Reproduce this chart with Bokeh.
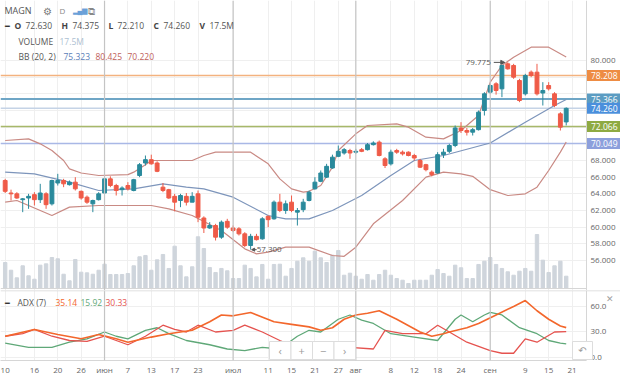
from bokeh.plotting import figure
from bokeh.models import (Range1d, LinearAxis, FixedTicker, Span, Label, Grid,
                          NumeralTickFormatter, Arrow, NormalHead, BoxAnnotation)
from bokeh.layouts import column
from bokeh.embed import file_html
from bokeh.resources import INLINE

# ---------------- data ----------------
opens = [65.6, 64.1, 64.0, 63.3, 63.5, 63.9, 63.3, 64.0, 62.8, 65.3,
         65.6, 65.1, 65.4, 64.3, 63.6, 62.8, 63.3, 64.1, 65.8, 65.0,
         64.5, 65.0, 64.4, 66.2, 67.7, 68.1, 67.7, 64.8, 64.5, 63.7,
         63.2, 63.7, 63.0, 64.0, 61.1, 59.9, 60.2, 58.8, 60.7, 59.9,
         59.8, 59.2, 57.8, 58.9, 58.6, 61.3, 61.0, 63.0, 62.0, 63.0,
         61.8, 62.1, 63.2, 64.6, 65.5, 66.0, 67.1, 68.5, 68.9, 69.2,
         69.0, 69.3, 69.3, 69.9, 70.2, 68.2, 67.6, 69.2, 69.0, 69.0,
         68.6, 68.0, 67.5, 66.6, 66.5, 68.7, 69.1, 69.8, 71.9, 71.6,
         71.4, 71.7, 74.0, 76.2, 77.2, 76.6, 79.6, 79.4, 77.6, 76.0,
         78.6, 78.6, 76.1, 77.0, 76.0, 73.6, 72.63]
highs = [65.8, 64.5, 64.2, 63.5, 64.0, 64.2, 65.2, 64.2, 65.7, 66.4,
         65.8, 65.6, 66.0, 64.4, 63.8, 63.3, 64.2, 65.9, 66.1, 65.2,
         64.9, 65.4, 65.8, 67.7, 68.6, 68.7, 67.9, 65.3, 64.6, 64.0,
         64.0, 64.1, 64.2, 64.4, 61.3, 60.6, 60.4, 60.8, 61.0, 60.2,
         60.0, 59.4, 59.2, 59.2, 61.2, 61.4, 63.2, 64.0, 63.2, 63.8,
         62.3, 63.4, 64.4, 66.0, 66.8, 67.6, 68.7, 69.8, 69.5, 69.4,
         69.4, 69.5, 70.1, 70.3, 70.4, 68.4, 69.3, 69.4, 69.2, 69.1,
         68.8, 68.2, 67.6, 66.8, 69.0, 69.4, 70.0, 72.2, 72.6, 71.9,
         71.9, 74.0, 76.2, 77.2, 77.4, 79.5, 79.775, 79.6, 77.8, 78.4,
         78.8, 79.6, 77.4, 77.4, 76.2, 73.8, 74.375]
lows = [64.1, 63.2, 63.4, 61.8, 62.2, 62.6, 62.9, 62.2, 62.6, 65.0,
        64.8, 65.0, 64.4, 63.3, 62.8, 61.8, 63.2, 64.0, 64.8, 63.8,
        63.8, 64.4, 64.3, 66.0, 67.4, 67.5, 66.6, 64.2, 63.4, 61.9,
        62.4, 62.6, 63.0, 60.6, 59.3, 59.8, 58.4, 58.6, 59.8, 59.4,
        59.0, 57.6, 57.3, 58.4, 58.5, 60.0, 60.9, 61.8, 61.6, 61.8,
        60.2, 61.8, 63.1, 64.5, 65.4, 65.9, 67.0, 68.4, 68.7, 68.2,
        68.8, 69.0, 69.2, 69.8, 68.5, 67.1, 67.4, 68.8, 68.6, 68.5,
        68.0, 67.1, 66.7, 66.1, 66.4, 68.3, 68.9, 69.6, 71.3, 71.0,
        71.0, 71.6, 73.4, 76.0, 75.9, 75.6, 78.9, 77.8, 75.0, 75.8,
        78.0, 75.8, 74.6, 76.4, 74.4, 71.6, 72.21]
closes = [64.3, 64.0, 63.5, 63.4, 63.7, 63.3, 64.1, 62.7, 65.6, 65.6,
          65.2, 65.4, 64.6, 63.5, 63.0, 63.2, 64.0, 65.8, 65.0, 64.4,
          64.7, 64.6, 65.7, 67.5, 68.1, 67.6, 66.7, 64.4, 63.5, 63.0,
          63.8, 63.0, 63.7, 61.2, 59.9, 60.2, 58.8, 60.6, 60.0, 59.6,
          59.2, 57.8, 58.9, 58.5, 61.0, 60.9, 63.0, 62.0, 62.8, 62.0,
          62.0, 63.0, 64.2, 65.4, 66.5, 67.3, 68.4, 69.1, 69.3, 68.9,
          69.1, 69.1, 69.9, 70.1, 68.6, 67.4, 69.0, 69.0, 68.8, 68.6,
          68.3, 67.2, 66.9, 66.3, 68.7, 69.0, 69.8, 71.9, 71.6, 71.4,
          71.7, 73.8, 76.0, 77.0, 76.4, 79.4, 79.0, 78.0, 75.2, 78.2,
          78.2, 76.0, 76.4, 76.6, 74.6, 72.0, 74.26]
volumes = [37.0, 26.0, 15.2, 32.3, 18.1, 13.2, 33.2, 35.1, 44.1, 42.3,
           20.3, 11.0, 41.3, 23.2, 22.3, 20.3, 26.0, 34.6, 19.9, 19.9,
           19.9, 21.3, 32.3, 45.1, 47.0, 26.0, 40.8, 48.4, 28.5, 60.2,
           32.3, 16.6, 30.9, 73.6, 56.9, 29.9, 22.8, 28.5, 25.2, 14.2,
           14.2, 33.2, 28.5, 16.6, 34.2, 13.2, 34.2, 34.6, 17.5, 28.5,
           38.8, 43.7, 38.8, 53.1, 43.7, 37.0, 47.4, 54.1, 18.9, 21.8,
           17.5, 13.2, 19.9, 11.8, 19.9, 26.0, 18.9, 14.2, 11.8, 7.1,
           11.8, 11.8, 11.8, 18.9, 27.0, 21.3, 17.5, 33.2, 29.5, 14.2,
           14.2, 34.2, 38.8, 44.1, 34.2, 28.5, 23.8, 18.9, 24.6, 28.5,
           24.6, 76.8, 40.3, 22.8, 32.3, 38.8, 17.5]

# Bollinger bands (20, 2): candle index, value
bb_up_x = [0, 4, 6, 8, 10, 11, 13, 16, 21, 22, 24, 25, 32, 34, 36, 42, 45, 47, 49, 51,
           52, 54, 56, 57, 60, 62, 67, 69, 72, 75, 78, 81, 82, 83, 85, 87, 90, 93, 96]
bb_up = [70.4, 70.6, 70.0, 69.2, 68.0, 67.0, 66.5, 66.2, 66.3, 66.6, 67.5, 68.0, 68.0, 68.6, 69.0,
         69.0, 67.6, 65.8, 64.6, 64.2, 64.3, 65.0, 67.2, 69.2, 71.2, 72.2, 72.4, 72.0, 70.8, 70.6,
         71.6, 73.4, 75.4, 77.4, 79.4, 80.4, 81.6, 81.6, 80.425]
bb_mid_x = [0, 5, 11, 16, 22, 27, 31, 34, 39, 45, 48, 52, 56, 61, 66, 70, 75, 83, 89, 94, 96]
bb_mid = [66.6, 66.4, 65.4, 64.4, 64.6, 65.2, 64.8, 64.6, 63.6, 61.4, 61.0, 61.0, 62.0, 63.8,
          66.2, 68.0, 68.6, 70.1, 72.6, 74.6, 75.323]
bb_lo_x = [0, 2, 8, 11, 16, 25, 28, 32, 37, 41, 43, 45, 48, 52, 56, 58, 60, 63, 68, 72, 75,
           78, 80, 83, 86, 89, 91, 93, 95, 96]
bb_lo = [63.0, 63.2, 61.4, 62.4, 62.6, 62.6, 62.2, 61.4, 59.6, 57.4, 56.8, 57.0, 57.6, 57.6,
         56.6, 56.5, 57.6, 60.4, 63.2, 66.0, 66.6, 66.4, 66.1, 64.5, 63.8, 64.0, 64.8, 66.8,
         69.0, 70.22]

# ADX (7)
adx_x = [0, 5, 9, 13, 16, 19, 21, 25, 28, 32, 35, 37, 39, 42, 46, 49, 52, 54, 56, 58, 60, 62,
         64, 67, 71, 73, 75, 76, 79, 81, 84, 87, 89, 91, 93, 95, 96]
adx = [25, 33, 27, 22, 27, 22, 18, 24, 28, 32, 42, 50, 49, 53, 42, 39, 36, 32, 35, 45, 50, 52,
       55, 45, 30, 25, 28, 30, 35, 40, 50, 60, 67, 55, 45, 37, 35.14]
pdi_x = [0, 4, 8, 11, 14, 17, 19, 21, 24, 26, 28, 31, 35, 38, 41, 44, 47, 50, 52, 54, 57, 59,
         61, 63, 66, 70, 74, 77, 78, 80, 82, 83, 85, 88, 91, 93, 95, 96]
pdi = [17, 12, 12, 18, 22, 30, 25, 22, 32, 35, 28, 20, 15, 10, 8, 12, 10, 25, 32, 30, 45, 50,
       44, 40, 28, 24, 20, 45, 50, 42, 50, 53, 50, 35, 28, 20, 17, 15.92]
mdi_x = [0, 3, 5, 8, 11, 14, 17, 19, 21, 24, 27, 29, 31, 33, 36, 39, 41, 44, 47, 49, 52, 55,
         59, 63, 65, 68, 72, 74, 76, 79, 83, 85, 87, 89, 91, 94, 96]
mdi = [25, 28, 33, 25, 20, 19, 25, 20, 15, 25, 38, 33, 30, 38, 30, 32, 38, 30, 20, 14, 10, 10,
       12, 10, 32, 28, 28, 38, 30, 18, 8, 5, 5, 22, 18, 30, 30.33]

tick_idx = [0, 5, 9, 13, 17, 21, 25, 29, 33, 39, 45, 49, 53, 57, 60, 66, 70, 74, 78, 83, 89, 93, 97]
tick_lbl = ["10", "16", "20", "26", "июн", "7", "13", "17", "23", "июл", "11", "15", "21", "27",
            "авг", "8", "12", "18", "24", "сен", "9", "15", "21"]
month_idx = [17, 39, 60, 83]
price_grid = [56, 58, 60, 62, 64, 66, 68, 70, 72, 74, 76, 78, 80]
price_labels = [56, 58, 60, 62, 64, 66, 68, 80]   # the others sit under the level boxes
levels = [78.208, 75.366, 74.260, 72.066, 70.049]
level_line_colors = ["#f3b27f", "#6fa6c6", "#c5d3e6", "#a7b86a", "#a9b8e6"]
level_box_colors = ["#ee8c43", "#5b9cc2", "#4a8fdc", "#8eaa42", "#8c9fdc"]

# ---------------- style ----------------
UP = "#2a8a9c"
DN = "#ef5b48"
FONT = "Open Sans"
TXT = "#555555"
X0, XAX, X1 = -0.8, 99.47, 105.29   # left edge, price-scale position, right edge (index units)

n = len(closes)
idx = list(range(n))
up = [c >= o for o, c in zip(opens, closes)]
col = [UP if u else DN for u in up]
body_top = [max(o, c) for o, c in zip(opens, closes)]
body_bot = [min(o, c) for o, c in zip(opens, closes)]
body_bot = [b if t - b > 0.06 else t - 0.06 for t, b in zip(body_top, body_bot)]

XR = Range1d(X0, X1)


def base_fig(h, yr, bottom=0):
    f = figure(width=620, height=h, x_range=XR, y_range=yr, output_backend="svg",
               toolbar_location=None, min_border_left=0, min_border_right=0,
               min_border_top=0, min_border_bottom=bottom,
               x_axis_location=None, y_axis_location=None)
    f.grid.visible = False
    f.outline_line_color = None
    return f


def axis_style(a):
    a.major_tick_line_color = None
    a.minor_tick_line_color = None
    a.major_tick_out = 0
    a.major_tick_in = 0
    a.minor_tick_out = 0
    a.minor_tick_in = 0
    a.axis_line_color = "#d6d6d6"
    a.major_label_text_font_size = "8px"
    a.major_label_text_color = "#666666"
    a.major_label_text_font = FONT


p1 = base_fig(290, Range1d(52.4, 87.2))
p1.extra_y_ranges = {"vol": Range1d(-2.85, 409.8)}

p1.add_layout(Grid(dimension=0, ticker=FixedTicker(ticks=tick_idx), grid_line_color="#efefef"))
p1.add_layout(Grid(dimension=1, ticker=FixedTicker(ticks=price_grid), grid_line_color="#efefef"))
p1.add_layout(BoxAnnotation(left=XAX, fill_color="white", fill_alpha=1, line_color=None, level="underlay"))
for m in month_idx:
    p1.add_layout(Span(location=m, dimension="height", line_color="#c4c4c4", line_width=1.2))

ax = LinearAxis(ticker=FixedTicker(ticks=price_labels), formatter=NumeralTickFormatter(format="0.000"),
                fixed_location=XAX, major_label_standoff=4)
axis_style(ax)
p1.add_layout(ax, "right")

# volume
p1.vbar(x=idx, top=volumes, bottom=0, width=0.58, color="#cfd5dc", y_range_name="vol")
p1.segment(x0=[X0], x1=[XAX], y0=[0], y1=[0], line_color="#d6d6d6", line_width=1, y_range_name="vol")

# horizontal levels
p1.segment(x0=[X0] * len(levels), x1=[XAX] * len(levels), y0=levels, y1=levels,
           line_color=level_line_colors, line_width=[1.5, 2, 1.5, 1.5, 1.5])

# bollinger
p1.line(bb_up_x, bb_up, line_color="#c98a84", line_width=1.2)
p1.line(bb_lo_x, bb_lo, line_color="#c98a84", line_width=1.2)
p1.line(bb_mid_x, bb_mid, line_color="#7d95bb", line_width=1.2)

# candles
p1.segment(x0=idx, y0=lows, x1=idx, y1=highs, color=col, line_width=1)
p1.vbar(x=idx, top=body_top, bottom=body_bot, width=0.66, fill_color=col, line_color=col)

# price boxes on the price scale
for lv, bc in zip(levels, level_box_colors):
    p1.add_layout(Label(x=XAX, y=lv, x_offset=0.5, text="%.3f" % lv, text_color="white",
                        text_font=FONT, text_font_size="8.5px", text_baseline="middle",
                        background_fill_color=bc, background_fill_alpha=1,
                        padding=dict(left=4, right=6, top=2, bottom=2)))

# high / low annotations
hi_i = highs.index(max(highs))
lo_i = lows.index(min(lows))
px = 1 / 5.844
p1.add_layout(Label(x=hi_i, y=max(highs), x_offset=-17, text="%.3f" % max(highs), text_align="right",
                    text_baseline="middle", text_font=FONT, text_font_size="8px", text_color=TXT))
p1.add_layout(Arrow(x_start=hi_i - 14 * px, y_start=max(highs), x_end=hi_i - 3 * px, y_end=max(highs),
                    line_color=TXT, line_width=1,
                    end=NormalHead(size=4, line_color=TXT, fill_color=TXT)))
p1.add_layout(Label(x=lo_i, y=min(lows), x_offset=6, text="%.3f" % min(lows), text_align="left",
                    text_baseline="middle", text_font=FONT, text_font_size="8px", text_color=TXT))
p1.add_layout(Arrow(x_start=lo_i + 6 * px, y_start=min(lows), x_end=lo_i + 1 * px, y_end=min(lows),
                    line_color=TXT, line_width=1,
                    end=NormalHead(size=3, line_color=TXT, fill_color=TXT)))


# header texts (screen coords, y measured from the top of the frame)
def hdr(fig, x, ytop, text, color=TXT, size="8.5px", bold=False, fh=290, align="left"):
    fig.add_layout(Label(x=x, y=fh - ytop, x_units="screen", y_units="screen", text=text,
                         text_color=color, text_font=FONT, text_font_size=size, text_align=align,
                         text_font_style="bold" if bold else "normal", text_baseline="middle"))


hdr(p1, 4, 10, "MAGN", "#555555", "9px")
hdr(p1, 42, 10, "⚙", "#777777", "10px")
hdr(p1, 59, 10, "D", "#888888", "8px")
hdr(p1, 72, 10, "▂▄▆", "#6aa0d8", "7px")
hdr(p1, 87, 10, "⧉", "#888888", "10px")
hdr(p1, 4, 25, "━", "#333333", "8px")
row2 = [(14, "O", True), (25, "72.630", False), (61, "H", True), (72, "74.375", False),
        (108, "L", True), (117, "72.210", False), (153, "C", True), (163, "74.260", False),
        (199, "V", True), (209, "17.5M", False)]
for x, t, b in row2:
    hdr(p1, x, 25, t, "#444444" if b else "#555555", "8.5px", b)
hdr(p1, 18, 41, "VOLUME", "#555555", "8.5px")
hdr(p1, 59, 41, "17.5M", "#aebfd2", "8.5px")
hdr(p1, 18, 56, "BB (20, 2)", "#555555", "8.5px")
hdr(p1, 63, 56, "75.323", "#5b80b8", "8.5px")
hdr(p1, 95, 56, "80.425", "#c0605a", "8.5px")
hdr(p1, 127, 56, "70.220", "#c0605a", "8.5px")

# ---------------- ADX pane ----------------
p2 = base_fig(87, Range1d(-3.53, 78.8), bottom=17)
p2.add_layout(Grid(dimension=0, ticker=FixedTicker(ticks=tick_idx), grid_line_color="#efefef"))
p2.add_layout(Grid(dimension=1, ticker=FixedTicker(ticks=[0, 30, 60]), grid_line_color="#efefef"))
p2.add_layout(BoxAnnotation(left=XAX, fill_color="white", fill_alpha=1, line_color=None, level="underlay"))
for m in month_idx:
    p2.add_layout(Span(location=m, dimension="height", line_color="#c4c4c4", line_width=1.2))
p2.add_layout(Span(location=78.8, dimension="width", line_color="#d6d6d6", line_width=1.5))

xax = LinearAxis(ticker=FixedTicker(ticks=tick_idx),
                 major_label_overrides={t: l for t, l in zip(tick_idx, tick_lbl)},
                 major_label_standoff=3, bounds=(X0, XAX))
axis_style(xax)
p2.add_layout(xax, "below")
yax = LinearAxis(ticker=FixedTicker(ticks=[0, 30, 60]), formatter=NumeralTickFormatter(format="0.0"),
                 fixed_location=XAX, major_label_standoff=4)
axis_style(yax)
p2.add_layout(yax, "right")

p2.line(pdi_x, pdi, line_color="#5fa878", line_width=1.3)
p2.line(mdi_x, mdi, line_color="#e5534f", line_width=1.3)
p2.line(adx_x, adx, line_color="#f3672c", line_width=1.6)

hdr(p2, 4, 12, "━", "#333333", "8px", fh=70)
hdr(p2, 17, 12, "ADX (7)", "#555555", "8.5px", fh=70)
hdr(p2, 55, 12, "35.14", "#f3672c", "8.5px", fh=70)
hdr(p2, 80, 12, "15.92", "#5fa878", "8.5px", fh=70)
hdr(p2, 105, 12, "30.33", "#e5534f", "8.5px", fh=70)
hdr(p2, 609, 8, "✕", "#a0a0a0", "9px", fh=70, align="center")

# navigation buttons
for k, g in enumerate(["‹", "+", "−", "›"]):
    left = 269 + k * 21.5
    p2.add_layout(BoxAnnotation(left=left, right=left + 21.5, top=19, bottom=1,
                                left_units="screen", right_units="screen",
                                top_units="screen", bottom_units="screen",
                                fill_color="white", fill_alpha=1, line_color="#dddddd", line_alpha=1))
    p2.add_layout(Label(x=left + 10.75, y=10, x_units="screen", y_units="screen", text=g,
                        text_align="center", text_baseline="middle", text_color="#9a9a9a",
                        text_font=FONT, text_font_size="11px"))
p2.add_layout(BoxAnnotation(left=572, right=592, top=19, bottom=1,
                            left_units="screen", right_units="screen",
                            top_units="screen", bottom_units="screen",
                            fill_color="white", fill_alpha=1, line_color="#dddddd", line_alpha=1))
p2.add_layout(Label(x=582, y=10, x_units="screen", y_units="screen", text="↶",
                    text_align="center", text_baseline="middle", text_color="#9a9a9a",
                    text_font="DejaVu Sans", text_font_size="10px"))

layout = column(p1, p2, spacing=0)
open("out.html", "w").write(file_html(layout, INLINE))
